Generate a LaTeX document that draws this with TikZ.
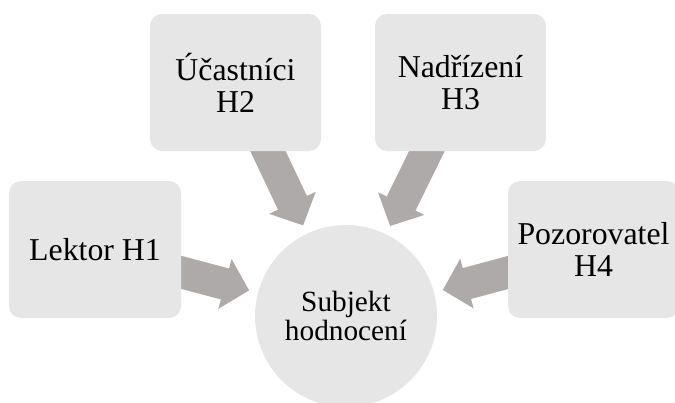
\documentclass[tikz,border=0pt]{standalone}
\usepackage{fontspec}
\setmainfont{Liberation Serif}
\usetikzlibrary{arrows.meta}
\definecolor{boxfill}{HTML}{E7E6E6}
\definecolor{arrowfill}{HTML}{AEAAAA}
\pgfdeclarelayer{bg}
\pgfsetlayers{bg,main}
\begin{document}
\begin{tikzpicture}[x=1pt,y=-1pt,
  sbox/.style={rectangle, rounded corners=12pt, fill=boxfill, draw=none,
    inner sep=0pt, minimum width=171pt, minimum height=137pt, align=center,
    font=\fontsize{31.8}{32.3}\selectfont},
  scircle/.style={circle, fill=boxfill, draw=none, inner sep=0pt,
    minimum size=182pt, align=center, font=\fontsize{29.3}{28.5}\selectfont},
  fatarrow/.style={draw=arrowfill, line width=32pt,
    -{Triangle[width=50pt,length=25pt,fill=arrowfill]}, shorten >=9pt}]
\useasboundingbox (0,0) rectangle (675,402);
\clip (0,0) rectangle (675,402);
\node[sbox, minimum width=172pt] (h1) at (95,249.5) {Lektor H1};
\node[sbox] (h2) at (235.5,82.5) {Účastníci\\H2};
\node[sbox] (h3) at (460.5,82.5) {Nadřízení\\H3};
\node[sbox] (h4) at (593.5,249.5) {Pozorovatel\\H4};
\node[scircle] (c) at (346,316) {Subjekt\\hodnocení};
\begin{pgfonlayer}{bg}
\draw[fatarrow] (h1.center) -- (c);
\draw[fatarrow] (h2.center) -- (c);
\draw[fatarrow] (h3.center) -- (c);
\draw[fatarrow] (h4.center) -- (c);
\end{pgfonlayer}
\end{tikzpicture}
\end{document}
